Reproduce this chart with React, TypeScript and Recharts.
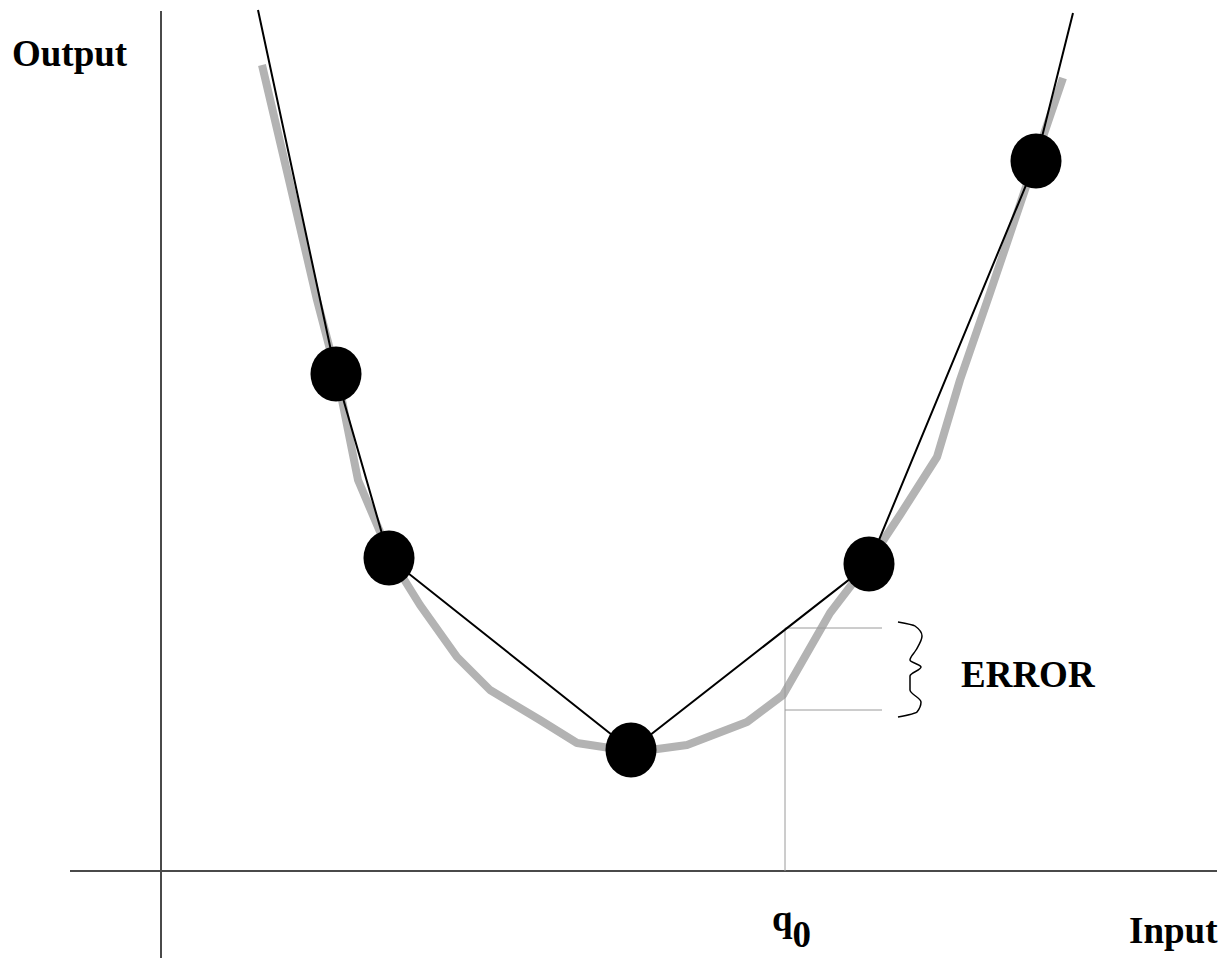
import React from 'react';
import {
  ComposedChart, Line, Scatter, XAxis, YAxis, ReferenceLine,
} from 'recharts';

// units: input along x, output along y (origin where the axes cross)
const TRUE_CURVE = [
  { x: 1.01, y: 8.06 },
  { x: 1.28, y: 6.91 },
  { x: 1.56, y: 5.71 },
  { x: 1.77, y: 4.91 },
  { x: 1.97, y: 3.91 },
  { x: 2.11, y: 3.58 },
  { x: 2.31, y: 3.11 },
  { x: 2.59, y: 2.66 },
  { x: 2.96, y: 2.14 },
  { x: 3.29, y: 1.81 },
  { x: 3.79, y: 1.51 },
  { x: 4.16, y: 1.28 },
  { x: 4.49, y: 1.23 },
  { x: 4.89, y: 1.21 },
  { x: 5.26, y: 1.26 },
  { x: 5.86, y: 1.49 },
  { x: 6.22, y: 1.76 },
  { x: 6.69, y: 2.58 },
  { x: 7.08, y: 3.09 },
  { x: 7.39, y: 3.56 },
  { x: 7.76, y: 4.14 },
  { x: 7.99, y: 4.91 },
  { x: 8.29, y: 5.78 },
  { x: 8.69, y: 6.96 },
  { x: 9.02, y: 7.93 },
];

// sample points (the black dots)
const KNOTS = [
  { x: 1.75, y: 4.97 },
  { x: 2.28, y: 3.13 },
  { x: 4.70, y: 1.21 },
  { x: 7.08, y: 3.07 },
  { x: 8.75, y: 7.10 },
];

// piecewise linear approximation, extended past the outer knots
const LINEAR_FIT = [
  { x: 0.97, y: 8.61 },
  ...KNOTS,
  { x: 9.12, y: 8.58 },
];

// curly brace marking the error
const BRACE = [
  { x: 7.37, y: 2.49 },
  { x: 7.54, y: 2.45 },
  { x: 7.61, y: 2.35 },
  { x: 7.55, y: 2.21 },
  { x: 7.49, y: 2.11 },
  { x: 7.60, y: 2.04 },
  { x: 7.49, y: 1.95 },
  { x: 7.49, y: 1.81 },
  { x: 7.60, y: 1.69 },
  { x: 7.56, y: 1.59 },
  { x: 7.37, y: 1.54 },
];

const Q0 = 6.24;
const ERROR_TOP = 2.43;
const ERROR_BOTTOM = 1.61;
const ERROR_END = 7.21;

const X_DOMAIN = [-1.61, 10.66];
const Y_DOMAIN = [-0.87, 8.71];

const W = 1227;
const H = 958;
const AXIS_COLOR = '#4a4a4a';
const GUIDE_COLOR = '#9a9a9a';
const FONT = '"Liberation Serif", "Times New Roman", serif';

export default function App() {
  return (
    <div style={{ position: 'absolute', left: 0, top: 0, width: W, height: H, background: '#fff' }}>
      <ComposedChart width={W} height={H} margin={{ top: 0, right: 0, bottom: 0, left: 0 }}>
        <XAxis type="number" dataKey="x" domain={X_DOMAIN} hide allowDataOverflow />
        <YAxis type="number" dataKey="y" domain={Y_DOMAIN} hide allowDataOverflow />

        <ReferenceLine
          segment={[{ x: -0.91, y: 0 }, { x: 10.56, y: 0 }]}
          stroke={AXIS_COLOR} strokeWidth={2} ifOverflow="visible"
        />
        <ReferenceLine
          segment={[{ x: 0, y: 8.6 }, { x: 0, y: -0.87 }]}
          stroke={AXIS_COLOR} strokeWidth={2} ifOverflow="visible"
        />

        <Line
          data={TRUE_CURVE} dataKey="y" type="linear" stroke="#b3b3b3" strokeWidth={8}
          strokeLinejoin="round" dot={false} activeDot={false} isAnimationActive={false}
        />

        <ReferenceLine
          segment={[{ x: Q0, y: 0 }, { x: Q0, y: ERROR_TOP }]}
          stroke={GUIDE_COLOR} strokeWidth={1} ifOverflow="visible"
        />
        <ReferenceLine
          segment={[{ x: Q0, y: ERROR_TOP }, { x: ERROR_END, y: ERROR_TOP }]}
          stroke={GUIDE_COLOR} strokeWidth={1} ifOverflow="visible"
        />
        <ReferenceLine
          segment={[{ x: Q0, y: ERROR_BOTTOM }, { x: ERROR_END, y: ERROR_BOTTOM }]}
          stroke={GUIDE_COLOR} strokeWidth={1} ifOverflow="visible"
        />

        <Line
          data={LINEAR_FIT} dataKey="y" type="linear" stroke="#000" strokeWidth={2}
          dot={false} activeDot={false} isAnimationActive={false}
        />
        <Line
          data={BRACE} dataKey="y" type="monotoneY" stroke="#000" strokeWidth={1.5}
          dot={false} activeDot={false} isAnimationActive={false}
        />
        <Scatter
          data={KNOTS} dataKey="y" isAnimationActive={false}
          shape={(p: any) => <ellipse cx={p.cx} cy={p.cy} rx={25.5} ry={27.5} fill="#000" />}
        />
      </ComposedChart>

      <svg
        width={W} height={H}
        style={{ position: 'absolute', left: 0, top: 0, pointerEvents: 'none' }}
        fontFamily={FONT} fontWeight="bold" fontSize={37} fill="#000"
      >
        <text x={12} y={66}>Output</text>
        <text x={961} y={687}>ERROR</text>
        <text x={1129} y={943}>Input</text>
        <text x={772} y={931}>q<tspan dy={16}>0</tspan></text>
      </svg>
    </div>
  );
}
